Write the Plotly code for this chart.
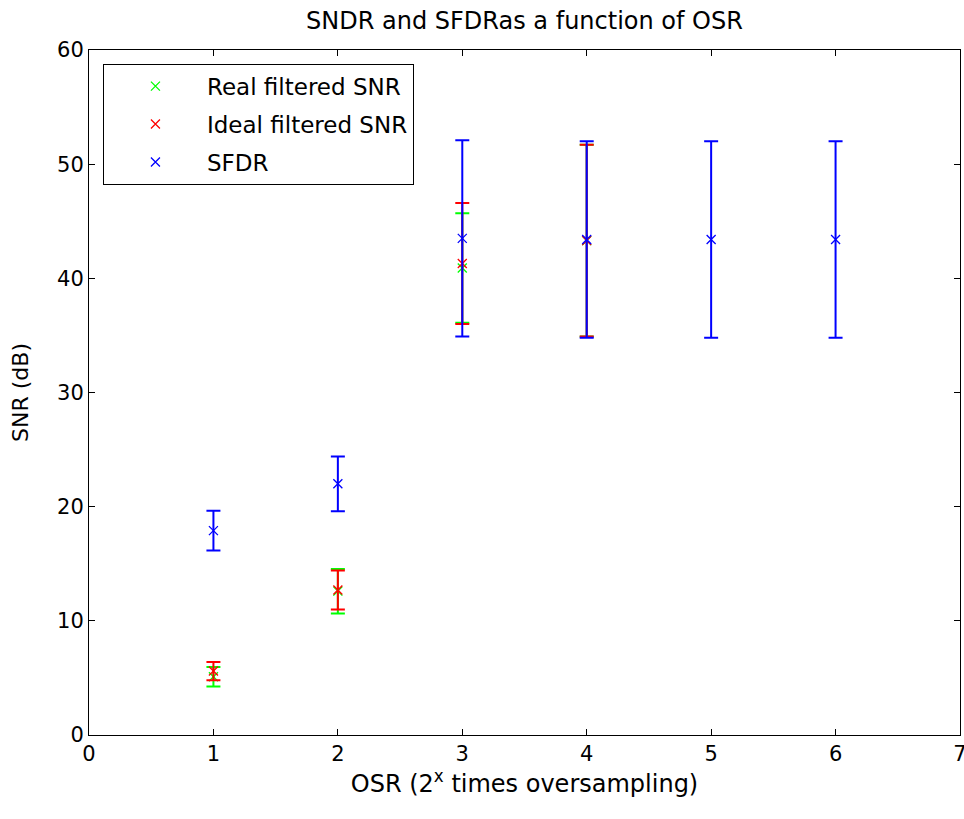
import plotly.graph_objects as go

# Data
osr_filtered = [1, 2, 3, 4]
real_snr = [5.1, 12.6, 40.9, 43.3]
real_err = [0.85, 1.95, 4.8, 8.4]
ideal_snr = [5.6, 12.7, 41.3, 43.3]
ideal_err = [0.8, 1.7, 5.3, 8.4]

osr_sfdr = [1, 2, 3, 4, 5, 6]
sfdr = [17.9, 22.0, 43.5, 43.4, 43.4, 43.4]
sfdr_err = [1.75, 2.4, 8.6, 8.6, 8.6, 8.6]

FONT = "DejaVu Sans"

def trace(x, y, e, name, color, group):
    return go.Scatter(
        x=x, y=y, name=name, mode="markers", legendgroup=group,
        marker=dict(symbol="x-thin", size=9, color=color,
                    line=dict(width=1.3, color=color)),
        error_y=dict(type="data", array=e, visible=True, color=color,
                     thickness=2, width=7),
    )

fig = go.Figure()
fig.add_trace(trace(osr_filtered, real_snr, real_err, "Real filtered SNR", "#00ff00", "a"))
fig.add_trace(trace(osr_filtered, ideal_snr, ideal_err, "Ideal filtered SNR", "#ff0000", "b"))
fig.add_trace(trace(osr_sfdr, sfdr, sfdr_err, "SFDR", "#0000ff", "c"))

axis_common = dict(
    showgrid=False, zeroline=False, showline=True, linecolor="black",
    linewidth=1, mirror="ticks", ticks="inside", ticklen=6,
    tickcolor="black", tickfont=dict(family=FONT, size=21, color="black"),
    ticklabeloverflow="allow", automargin=False,
)

fig.update_layout(
    width=964, height=819,
    margin=dict(l=89, r=4, t=50, b=84, autoexpand=False),
    paper_bgcolor="white", plot_bgcolor="white",
    title=dict(text="SNDR and SFDRas a function of OSR",
               font=dict(family=FONT, size=24, color="black"),
               x=0.5, xref="paper", xanchor="center",
               y=1 - 21 / 819, yref="container", yanchor="middle"),
    xaxis=dict(range=[0, 7], dtick=1, tick0=0,
               title=dict(text="OSR (2<sup>x</sup> times oversampling)",
                          font=dict(family=FONT, size=24, color="black"),
                          standoff=6),
               **axis_common),
    yaxis=dict(range=[0, 60], dtick=10, tick0=0,
               title=dict(text="SNR (dB)",
                          font=dict(family=FONT, size=22, color="black"),
                          standoff=22),
               **axis_common),
    legend=dict(x=0.016, y=0.98, xanchor="left", yanchor="top",
                bgcolor="white", bordercolor="black", borderwidth=1,
                font=dict(family=FONT, size=23, color="black"),
                traceorder="grouped", tracegroupgap=5, itemwidth=93),
    showlegend=True,
)

fig.write_html("out.html")
